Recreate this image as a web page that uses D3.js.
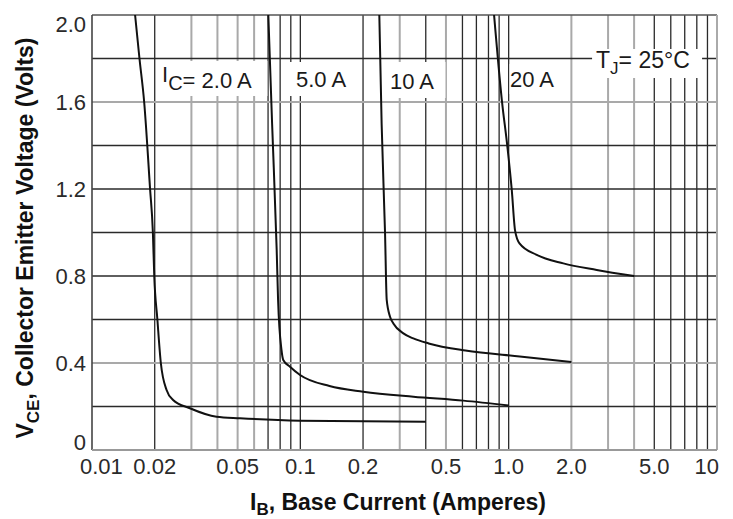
<!DOCTYPE html>
<html>
<head>
<meta charset="utf-8">
<script src="https://cdn.jsdelivr.net/npm/d3@7"></script>
<style>
	body { margin: 0; background: #fff; }
	svg { display: block; font-family: "Liberation Sans", Arial, sans-serif; }
</style>
</head>
<body>
<div id="chart"></div>
<script>
// curves: base current IB (A) vs VCE (V), one per collector current
var curve2A = [
	[0.0161, 2.0], [0.0169, 1.8], [0.0178, 1.6], [0.0190, 1.2], [0.0196, 1.0],
	[0.0199, 0.8], [0.0206, 0.6], [0.0214, 0.40], [0.0228, 0.276], [0.0245, 0.23],
	[0.0295, 0.192], [0.0396, 0.153], [0.0513, 0.146], [0.0997, 0.135], [0.4, 0.13]
];
var curve5A = [
	[0.0702, 2.0], [0.0732, 1.5], [0.0770, 0.92], [0.0782, 0.69], [0.0812, 0.46],
	[0.0828, 0.414], [0.0892, 0.383], [0.0997, 0.345], [0.138, 0.294], [0.2005, 0.268],
	[0.349, 0.245], [0.606, 0.227], [1.0, 0.205]
];
var curve10A = [
	[0.2394, 2.0], [0.2456, 1.5], [0.2550, 1.0], [0.2598, 0.69], [0.2695, 0.613],
	[0.2796, 0.582], [0.3123, 0.536], [0.3487, 0.513], [0.4130, 0.49], [0.62, 0.457],
	[1.13, 0.43], [2.0, 0.405]
];
var curve20A = [
	[0.851, 2.0], [0.927, 1.61], [0.986, 1.394], [1.035, 1.195], [1.073, 1.01],
	[1.127, 0.95], [1.364, 0.897], [1.83, 0.858], [2.648, 0.828], [4.0, 0.80]
];
var curves = [curve2A, curve5A, curve10A, curve20A];

var xTicks = [0.01, 0.02, 0.05, 0.1, 0.2, 0.5, 1, 2, 5, 10];
var xTickLabels = ["0.01", "0.02", "0.05", "0.1", "0.2", "0.5", "1.0", "2.0", "5.0", "10"];
var yTicks = [0, 0.4, 0.8, 1.2, 1.6, 2.0];
var yTickLabels = ["0", "0.4", "0.8", "1.2", "1.6", "2.0"];
var xGrid = [0.02, 0.03, 0.04, 0.05, 0.06, 0.07, 0.08, 0.09, 0.1,
	0.2, 0.3, 0.4, 0.5, 0.6, 0.7, 0.8, 0.9, 1,
	2, 3, 4, 5, 6, 7, 8, 9];
var yGrid = [0.2, 0.4, 0.6, 0.8, 1.0, 1.2, 1.4, 1.6, 1.8];

// the scan has some grid lines lighter than others
var lightX = new Set([0.03, 0.04, 0.05, 0.06, 0.3, 0.5, 2, 3, 4]);
var lightY = new Set([0.4, 1.6]);

var W = 733, H = 519;
var margin = { top: 15, right: 16, bottom: 69, left: 92 };

var x = d3.scaleLog()
	.domain([0.01, 10])
	.range([margin.left, W - margin.right]);
var y = d3.scaleLinear()
	.domain([0, 2])
	.range([H - margin.bottom, margin.top]);

var svg = d3.select("#chart")
	.append("svg")
	.attr("width", W)
	.attr("height", H);

// grid
svg.append("g")
	.selectAll("line")
	.data(xGrid)
	.join("line")
	.attr("x1", d => x(d)).attr("x2", d => x(d))
	.attr("y1", y(0)).attr("y2", y(2))
	.attr("stroke", d => lightX.has(d) ? "#a9a9a9" : "#2a2a2a")
	.attr("stroke-width", d => lightX.has(d) ? 2 : 1.3);

svg.append("g")
	.selectAll("line")
	.data(yGrid)
	.join("line")
	.attr("x1", x(0.01)).attr("x2", x(10))
	.attr("y1", d => y(d)).attr("y2", d => y(d))
	.attr("stroke", d => lightY.has(d) ? "#a9a9a9" : "#2a2a2a")
	.attr("stroke-width", d => lightY.has(d) ? 2 : 1.3);

// frame
var frame = svg.append("g").attr("fill", "none");
frame.append("line").attr("x1", x(0.01)).attr("x2", x(10)).attr("y1", y(2)).attr("y2", y(2))
	.attr("stroke", "#555").attr("stroke-width", 1.6);
frame.append("line").attr("x1", x(0.01)).attr("x2", x(0.01)).attr("y1", y(0)).attr("y2", y(2))
	.attr("stroke", "#444").attr("stroke-width", 1.6);
frame.append("line").attr("x1", x(10)).attr("x2", x(10)).attr("y1", y(0)).attr("y2", y(2))
	.attr("stroke", "#aaa").attr("stroke-width", 2);
frame.append("line").attr("x1", x(0.01)).attr("x2", x(10)).attr("y1", y(0)).attr("y2", y(0))
	.attr("stroke", "#999").attr("stroke-width", 2);

// white boxes behind the in-plot labels
var boxes = [
	[x(0.0206) + 4, 61, 106, 35],
	[x(0.088), 62, 68, 34],
	[x(0.262), 62, 58, 36],
	[x(1.01), 64, 54, 30],
	[x(3.0) - 16, 49, 110, 29]
];
svg.append("g")
	.selectAll("rect")
	.data(boxes)
	.join("rect")
	.attr("x", d => d[0]).attr("y", d => d[1])
	.attr("width", d => d[2]).attr("height", d => d[3])
	.attr("fill", "#fff");

// curves
var line = d3.line()
	.x(d => x(d[0]))
	.y(d => y(d[1]))
	.curve(d3.curveMonotoneX);

svg.append("g")
	.selectAll("path")
	.data(curves)
	.join("path")
	.attr("d", line)
	.attr("fill", "none")
	.attr("stroke", "#111")
	.attr("stroke-width", 2);

// in-plot labels
var lab = svg.append("g")
	.attr("font-size", 22)
	.attr("fill", "#1a1a1a");

var ic = lab.append("text").attr("x", 162).attr("y", 82);
ic.append("tspan").text("I");
ic.append("tspan").attr("dy", 8).attr("font-size", 20).text("C");
ic.append("tspan").attr("dy", -2).text("= 2.0 A");

lab.append("text").attr("x", 296).attr("y", 87).text("5.0 A");
lab.append("text").attr("x", 390).attr("y", 89).text("10 A");
lab.append("text").attr("x", 510).attr("y", 87).text("20  A");

var tj = lab.append("text").attr("x", 596).attr("y", 68).attr("font-size", 23);
tj.append("tspan").text("T");
tj.append("tspan").attr("dy", 6).attr("font-size", 17).text("J");
tj.append("tspan").attr("dy", -6).text("= 25\u00B0C");

// tick labels
var ticks = svg.append("g")
	.attr("font-size", 22)
	.attr("fill", "#2a2a2a");

ticks.selectAll("text.x")
	.data(xTicks)
	.join("text")
	.attr("class", "x")
	.attr("y", 474)
	.attr("text-anchor", "middle")
	.text((d, i) => xTickLabels[i])
	.attr("x", function(d) {
		var w = this.getComputedTextLength();
		return Math.min(Math.max(x(d), 80 + w / 2), 719 - w / 2);
	});

ticks.selectAll("text.y")
	.data(yTicks)
	.join("text")
	.attr("class", "y")
	.attr("x", 86)
	.attr("y", d => Math.min(Math.max(y(d), 24), 442))
	.attr("dy", "0.36em")
	.attr("text-anchor", "end")
	.text((d, i) => yTickLabels[i]);

// axis titles
var xt = svg.append("text")
	.attr("x", 398)
	.attr("y", 510)
	.attr("text-anchor", "middle")
	.attr("font-size", 23)
	.attr("font-weight", "bold")
	.attr("fill", "#111");
xt.append("tspan").text("I");
xt.append("tspan").attr("dy", 5).attr("font-size", 17).text("B");
xt.append("tspan").attr("dy", -5).text(", Base Current (Amperes)");

var yt = svg.append("text")
	.attr("transform", "translate(33," + 238 + ") rotate(-90)")
	.attr("text-anchor", "middle")
	.attr("font-size", 23)
	.attr("font-weight", "bold")
	.attr("fill", "#111");
yt.append("tspan").text("V");
yt.append("tspan").attr("dy", 6).attr("font-size", 17).text("CE");
yt.append("tspan").attr("dy", -6).text(", Collector Emitter Voltage (Volts)");
</script>
</body>
</html>
